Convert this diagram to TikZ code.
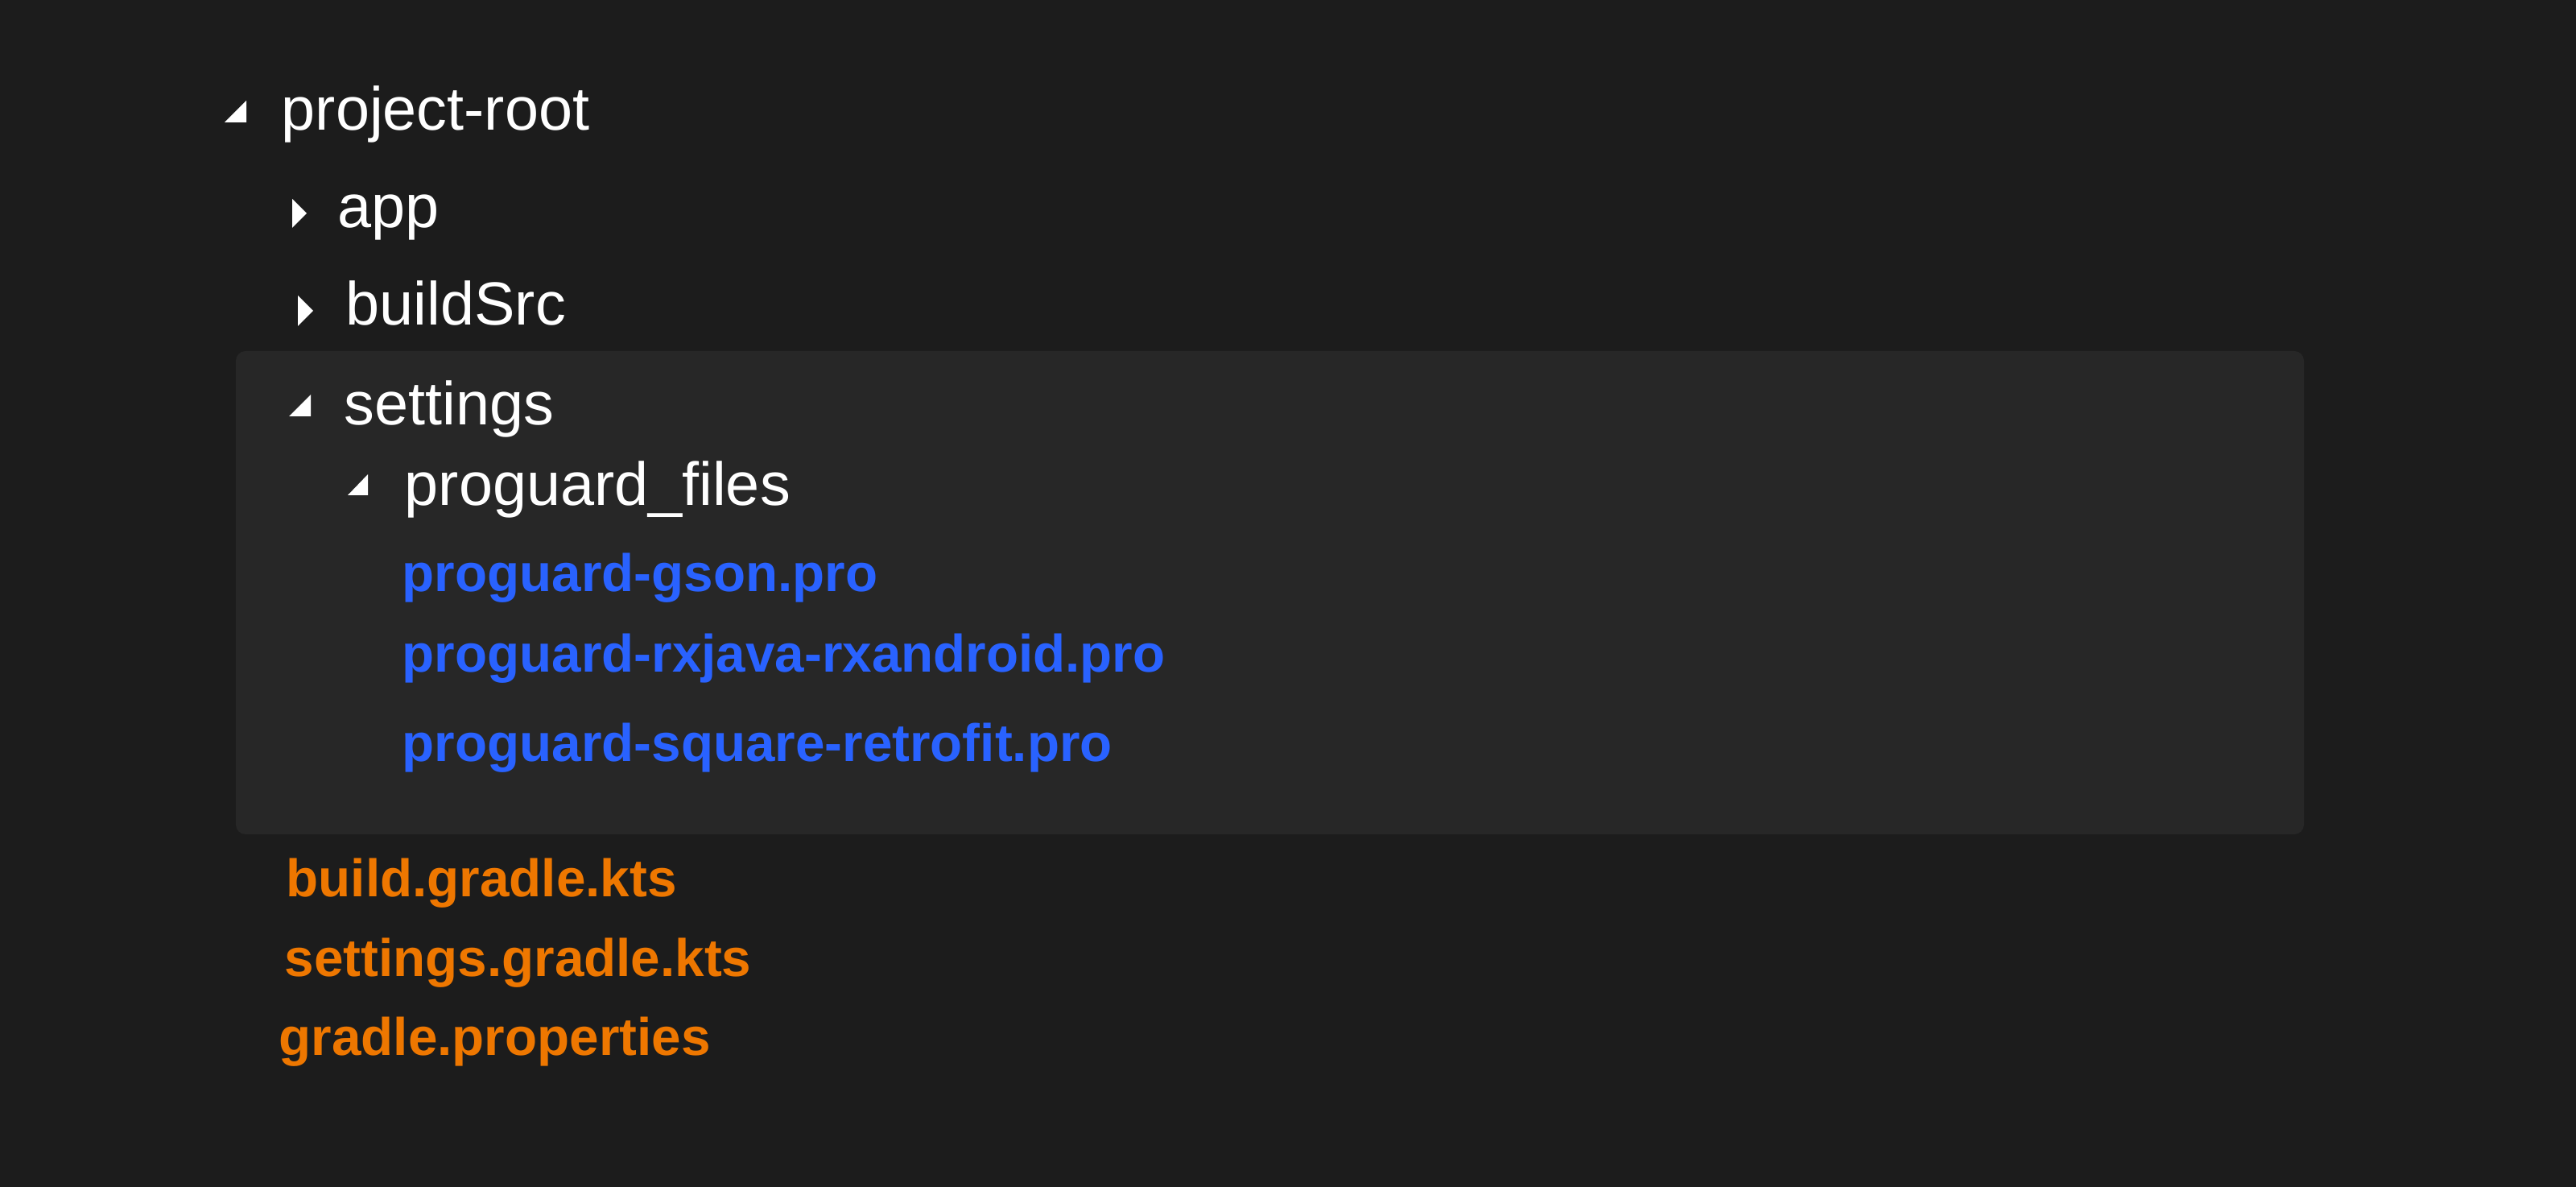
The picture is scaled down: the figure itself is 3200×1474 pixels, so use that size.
\documentclass[tikz,border=0pt]{standalone}
\usepackage{fontspec}
\setmainfont{Liberation Sans}
\definecolor{bgcol}{HTML}{1C1C1C}
\definecolor{panelcol}{HTML}{272727}
\definecolor{fblue}{HTML}{2962FF}
\definecolor{forange}{HTML}{EE7700}
\begin{document}
\begin{tikzpicture}[x=0.25pt,y=-0.25pt,
  dirtext/.style={anchor=base west,inner sep=0pt,text=white,font=\fontsize{18.9pt}{23pt}\selectfont},
  bluefile/.style={anchor=base west,inner sep=0pt,text=fblue,font=\fontsize{16.4pt}{20pt}\selectfont\bfseries},
  orangefile/.style={anchor=base west,inner sep=0pt,text=forange,font=\fontsize{16.4pt}{20pt}\selectfont\bfseries},
  tri/.style={fill=white}]
\fill[bgcol] (0,0) rectangle (3200,1474);
\useasboundingbox (0,0) rectangle (3200,1474);
\fill[panelcol, rounded corners=3pt] (293,436) rectangle (2862,1036);
% expand / collapse markers
\fill[tri] (306,125) -- (306,152) -- (279,152) -- cycle;
\fill[tri] (363,247) -- (381,265) -- (363,283) -- cycle;
\fill[tri] (370,367) -- (389,386) -- (370,405) -- cycle;
\fill[tri] (386,490) -- (386,517) -- (359,517) -- cycle;
\fill[tri] (457,589) -- (457,615) -- (432,615) -- cycle;
% tree labels
\node[dirtext] (root) at (349,162) {project-root};
\node[dirtext] (app) at (419,283) {app};
\node[dirtext] (buildsrc) at (429,404) {buildSrc};
\node[dirtext] (settings) at (427,528) {settings};
\node[dirtext] (pgfiles) at (502,628) {proguard\_files};
\node[bluefile] (gson) at (499,735) {proguard-gson.pro};
\node[bluefile] (rx) at (499,834) {proguard-rxjava-rxandroid.pro};
\node[bluefile] (retro) at (499,946) {proguard-square-retrofit.pro};
\node[orangefile] (bgk) at (355,1113) {build.gradle.kts};
\node[orangefile] (sgk) at (353,1212) {settings.gradle.kts};
\node[orangefile] (gp) at (346,1310) {gradle.properties};
\end{tikzpicture}
\end{document}
